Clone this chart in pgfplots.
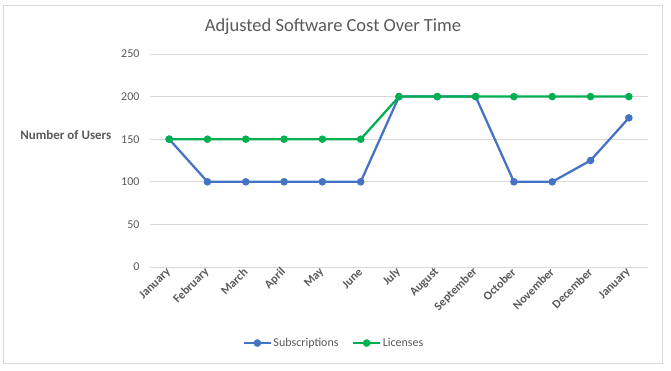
\documentclass[border=0pt]{standalone}
\usepackage{fontspec}
\setmainfont{Carlito}
\usepackage{pgfplots}
\pgfplotsset{compat=1.18}
\definecolor{subblue}{HTML}{4472C4}
\definecolor{licgreen}{HTML}{00B050}
\definecolor{txtgray}{HTML}{595959}
\definecolor{gridgray}{HTML}{D9D9D9}
\begin{document}
\begin{tikzpicture}[x=1bp,y=1bp]
\path (0,0) rectangle (671,370);
\draw[gridgray, line width=0.75bp] (3,7) rectangle (662,365);
\begin{axis}[
  at={(150bp,103bp)}, anchor=south west,
  scale only axis, width=498bp, height=213bp,
  xmin=-0.5, xmax=12.5, ymin=0, ymax=250,
  ytick={0,50,...,250},
  xtick={0,...,12},
  xticklabels={January,February,March,April,May,June,July,August,September,October,November,December,January},
  axis lines=left,
  y axis line style={draw=none},
  x axis line style={draw=gridgray, line width=0.75bp, -},
  major tick length=0pt,
  ymajorgrids, grid style={gridgray, line width=0.75bp},
  /pgf/number format/assume math mode=true,
  yticklabel style={font=\fontsize{12bp}{14bp}\selectfont, text=txtgray, xshift=-7bp},
  xticklabel style={font=\bfseries\fontsize{12bp}{14bp}\selectfont, text=txtgray, rotate=45, anchor=east, yshift=-2bp, xshift=1bp},
  ylabel={Number of Users},
  ylabel style={rotate=-90, font=\bfseries\fontsize{13bp}{15bp}\selectfont, text=txtgray, at={(axis description cs:-0.169,0.62)}, anchor=center},
  legend columns=2,
  legend style={at={(axis description cs:0.369,-0.357)}, anchor=center, draw=none, font=\fontsize{12bp}{14bp}\selectfont, text=txtgray, inner sep=0pt, /tikz/every even column/.append style={column sep=12bp}, nodes={inner sep=1.5bp}},
  legend image code/.code={\draw[#1, mark repeat=2, mark phase=2] plot coordinates {(0bp,0bp) (13.5bp,0bp) (27bp,0bp)};},
]
\addplot[subblue, line width=2.25bp, mark=*, mark size=2.6bp] coordinates {
(0,150) (1,100) (2,100) (3,100) (4,100) (5,100) (6,200) (7,200) (8,200) (9,100) (10,100) (11,125) (12,175)};
\addlegendentry{Subscriptions}
\addplot[licgreen, line width=2.25bp, mark=*, mark size=2.6bp] coordinates {
(0,150) (1,150) (2,150) (3,150) (4,150) (5,150) (6,200) (7,200) (8,200) (9,200) (10,200) (11,200) (12,200)};
\addlegendentry{Licenses}
\end{axis}
\node[font=\fontsize{18.5bp}{22bp}\selectfont, text=txtgray] at (333,343) {Adjusted Software Cost Over Time};
\end{tikzpicture}
\end{document}
